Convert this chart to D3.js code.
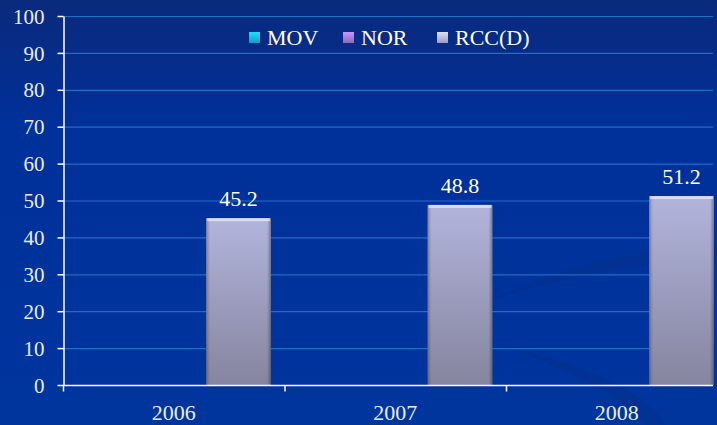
<!DOCTYPE html>
<html><head><meta charset="utf-8">
<script src="https://cdn.jsdelivr.net/npm/d3@7"></script>
<style>html,body{margin:0;padding:0;background:#00339a;}svg{display:block;}</style>
</head><body>
<svg id="c" width="717" height="425"></svg>
<script>
const categories = ["2006", "2007", "2008"];
const seriesNames = ["MOV", "NOR", "RCC(D)"];
const movValues = [0, 0, 0];
const norValues = [0, 0, 0];
const rccValues = [45.2, 48.8, 51.2];
const yTicks = [0, 10, 20, 30, 40, 50, 60, 70, 80, 90, 100];
const seriesColors = ["#19b4e4", "#a07ad8", "#b4b4d8"];

(function(){
const W = 717, H = 425;
const svg = d3.select("#c");
const defs = svg.append("defs");
const bg = defs.append("linearGradient").attr("id","bg").attr("x1",0).attr("y1",0).attr("x2",0).attr("y2",1);
bg.append("stop").attr("offset","0%").attr("stop-color","#0a2a7c");
bg.append("stop").attr("offset","30%").attr("stop-color","#00309a");
bg.append("stop").attr("offset","100%").attr("stop-color","#00359e");
const bar = defs.append("linearGradient").attr("id","bar").attr("x1",0).attr("y1",0).attr("x2",0).attr("y2",1);
bar.append("stop").attr("offset","0%").attr("stop-color","#b2b4dc");
bar.append("stop").attr("offset","100%").attr("stop-color","#85859f");
const side = defs.append("linearGradient").attr("id","side").attr("x1",0).attr("y1",0).attr("x2",1).attr("y2",0);
side.append("stop").attr("offset","0%").attr("stop-color","#000").attr("stop-opacity",0.25);
side.append("stop").attr("offset","6%").attr("stop-color","#000").attr("stop-opacity",0);
side.append("stop").attr("offset","94%").attr("stop-color","#000").attr("stop-opacity",0);
side.append("stop").attr("offset","100%").attr("stop-color","#000").attr("stop-opacity",0.3);

svg.append("rect").attr("width",W).attr("height",H).attr("fill","url(#bg)");
// decorative swoosh
svg.append("path").attr("d","M490,300 C570,262 660,245 717,245 L717,258 C660,260 570,275 490,300 Z").attr("fill","#03308e").attr("opacity",0.6);
svg.append("path").attr("d","M500,345 C590,365 650,395 665,425 L648,425 C625,398 570,370 500,345 Z").attr("fill","#03308e").attr("opacity",0.6);

const plotLeft = 63, plotTop = 16, plotBottom = 385, axisEnd = 713;
const x0 = d3.scaleBand().domain(categories).range([plotLeft, plotLeft + 221.5*3]).paddingInner(0).paddingOuter(0);
const x1 = d3.scaleBand().domain(seriesNames).range([0, x0.bandwidth()]).paddingInner(0).paddingOuter(0.21);
const y = d3.scaleLinear().domain([0, 100]).range([plotBottom, plotTop]);

const font = "'Liberation Serif', 'DejaVu Serif', serif";

// gridlines
svg.append("g").selectAll("line").data(yTicks.filter(d=>d>0)).join("line")
  .attr("x1", plotLeft).attr("x2", axisEnd).attr("y1", d=>y(d)+0.5).attr("y2", d=>y(d)+0.5)
  .attr("stroke", "#1d6fc4").attr("stroke-width", 1.2);

// bars
const data = categories.map((c,i)=>({cat:c, vals:[movValues[i], norValues[i], rccValues[i]]}));
const g = svg.append("g");
data.forEach(d=>{
  d.vals.forEach((v,j)=>{
    if (!v) return;
    const bx = x0(d.cat) + x1(seriesNames[j]);
    const bw = x1.bandwidth();
    const gg = g.append("g");
    gg.append("rect").attr("x", bx).attr("y", y(v)).attr("width", bw).attr("height", y(0)-y(v)).attr("fill","url(#bar)");
    gg.append("rect").attr("x", bx).attr("y", y(v)).attr("width", bw).attr("height", y(0)-y(v)).attr("fill","url(#side)");
    gg.append("rect").attr("x", bx+1).attr("y", y(v)).attr("width", bw-2).attr("height", 3).attr("fill","#e4e6f6").attr("opacity",0.8);
    svg.append("text").attr("x", bx + bw/2).attr("y", y(v) - 12)
      .attr("text-anchor","middle").attr("fill","#ffffff").attr("font-family",font).attr("font-size",22)
      .text(v.toFixed(1));
  });
});

// y axis
const yAxis = d3.axisLeft(y).tickValues(yTicks).tickSize(6).tickPadding(13).tickSizeOuter(0);
const ya = svg.append("g").attr("transform",`translate(${plotLeft+0.5},0)`).call(yAxis);
ya.select(".domain").attr("stroke","#fff").attr("stroke-width",1.5);
ya.selectAll(".tick line").attr("stroke","#fff").attr("stroke-width",1.5);
ya.selectAll(".tick text").attr("fill","#e8ecf8").attr("font-family",font).attr("font-size",21).attr("dy","0.34em");

// x axis
const xa = svg.append("g").attr("transform",`translate(0,${plotBottom+0.5})`);
xa.append("line").attr("x1",plotLeft).attr("x2",axisEnd).attr("y1",0).attr("y2",0).attr("stroke","#fff").attr("stroke-width",1.5);
const bounds = categories.map(c=>x0(c));
xa.selectAll("line.t").data(bounds).join("line").attr("class","t")
  .attr("x1",d=>d+0.5).attr("x2",d=>d+0.5).attr("y1",0).attr("y2",6).attr("stroke","#fff").attr("stroke-width",1.5);
xa.selectAll("text").data(categories).join("text")
  .attr("x", d=>x0(d)+x0.bandwidth()/2).attr("y", 34)
  .attr("text-anchor","middle").attr("fill","#e8ecf8").attr("font-family",font).attr("font-size",22).text(d=>d);

// legend
const lg = svg.append("g");
const legX = [249, 343, 437];
seriesNames.forEach((s,i)=>{
  const gr = defs.append("linearGradient").attr("id","lg"+i).attr("x1",0).attr("y1",0).attr("x2",0).attr("y2",1);
  const c = d3.color(seriesColors[i]);
  gr.append("stop").attr("offset","0%").attr("stop-color", c.brighter(0.6));
  gr.append("stop").attr("offset","100%").attr("stop-color", c.darker(0.4));
  lg.append("rect").attr("x", legX[i]).attr("y", 32).attr("width", 11).attr("height", 11).attr("fill","url(#lg"+i+")");
  lg.append("text").attr("x", legX[i]+18).attr("y", 45).attr("fill","#ffffff")
    .attr("font-family",font).attr("font-size",22).text(s);
});
})();
</script>
</body></html>
